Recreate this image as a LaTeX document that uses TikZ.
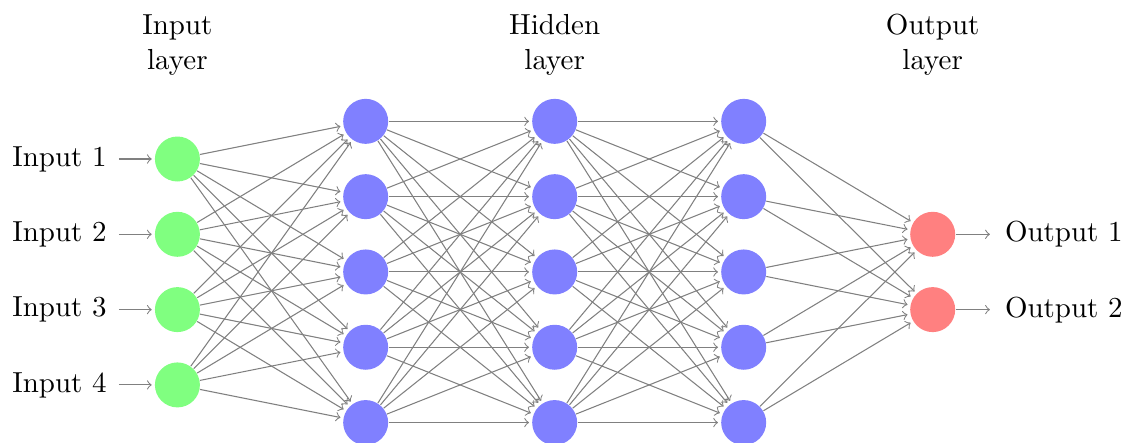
\documentclass[tikz,border=0pt]{standalone}
\begin{document}
\begin{tikzpicture}[
  txt/.style={font=\fontsize{10.95}{13.6}\selectfont},
  neuron/.style={circle, minimum size=17pt, inner sep=0pt},
  inneuron/.style={neuron, fill=green!50},
  hidneuron/.style={neuron, fill=blue!50},
  outneuron/.style={neuron, fill=red!50},
  conn/.style={->, draw=black!50, shorten >=1pt},
  annot/.style={txt, align=center, inner sep=0pt}
]
\useasboundingbox (-2.356,-4.7714) rectangle (12.544,1.1116);
% input layer
\foreach \i in {1,...,4} {
  \node[inneuron] (I-\i) at (0,-\i) {};
  \node[txt, anchor=east, inner sep=4.5pt] (LI-\i) at (-0.776,-\i) {Input \i};
  \draw[conn] (LI-\i.east) -- (I-\i);
}
% hidden layers
\foreach \l/\x in {1/2.5,2/5.01,3/7.52} {
  \foreach \j in {1,...,5} {
    \node[hidneuron] (H\l-\j) at (\x,{-\j+0.5}) {};
  }
}
% output layer
\foreach \k in {1,2} {
  \node[outneuron] (O-\k) at (10.03,{-\k-1}) {};
  \node[txt, anchor=west, inner sep=4.5pt] (LO-\k) at (10.825,{-\k-1}) {Output \k};
  \draw[conn] (O-\k) -- (LO-\k.west);
}
% connections
\foreach \i in {1,...,4}
  \foreach \j in {1,...,5}
    \draw[conn] (I-\i) -- (H1-\j);
\foreach \i in {1,...,5}
  \foreach \j in {1,...,5} {
    \draw[conn] (H1-\i) -- (H2-\j);
    \draw[conn] (H2-\i) -- (H3-\j);
  }
\foreach \i in {1,...,5}
  \foreach \k in {1,2}
    \draw[conn] (H3-\i) -- (O-\k);
% annotations
\node[annot, anchor=base] (AI) at (0,0.182) {Input\\layer};
\node[annot, anchor=base] (AH) at (5.01,0.182) {Hidden\\layer};
\node[annot, anchor=base] (AO) at (10.03,0.182) {Output\\layer};
\end{tikzpicture}
\end{document}
